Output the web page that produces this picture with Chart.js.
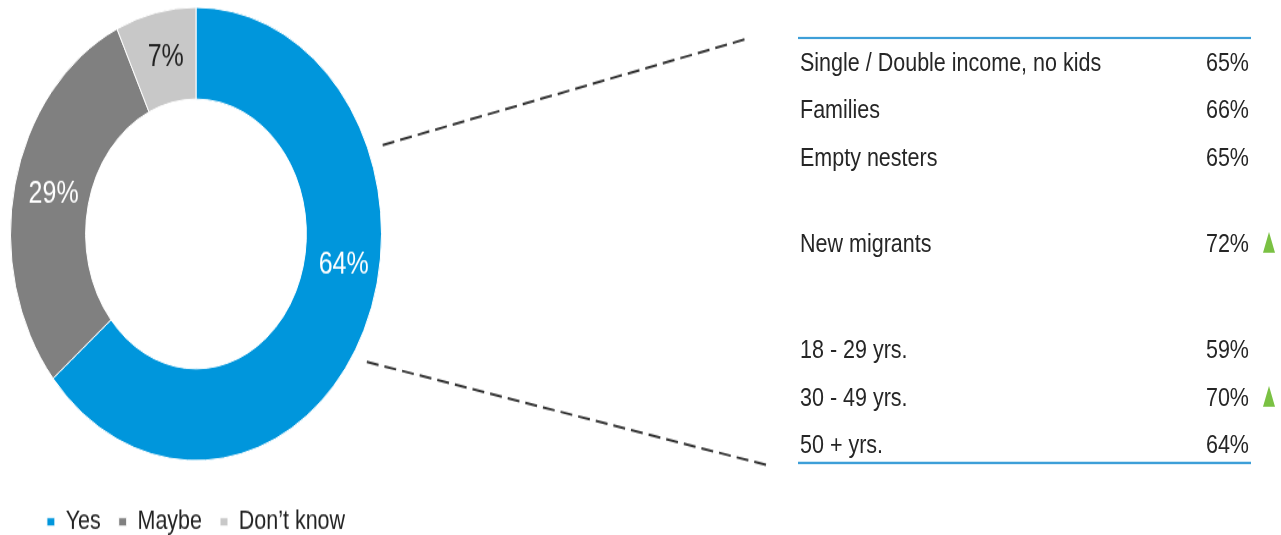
<!DOCTYPE html>
<html>
<head>
<meta charset="utf-8">
<script src="https://cdn.jsdelivr.net/npm/chart.js@4"></script>
<style>
    html, body { margin: 0; padding: 0; background: #fff; overflow: hidden; }
    #stage {
        position: absolute; left: 0; top: 0; width: 1281px; height: 448px;
        transform: scaleY(1.2215); transform-origin: 0 0;
        font-family: 'Liberation Sans', Arial, sans-serif; color: #262626;
    }
    #chart { position: absolute; left: 0; top: 0; }
    .rule { position: absolute; left: 798px; width: 453px; height: 2.5px; background: #3d9fd8; }
    .row { position: absolute; left: 800px; width: 449px; height: 39px; line-height: 39px; font-size: 21.5px; }
    .row .val { position: absolute; right: 0; top: 0; }
    .up {
        position: absolute; left: 463px; top: 9.5px; width: 0; height: 0;
        border-left: 6.5px solid transparent; border-right: 6.5px solid transparent;
        border-bottom: 17.5px solid #7ac143;
    }
</style>
</head>
<body>
<div id="stage">
    <canvas id="chart" width="1281" height="448"></canvas>
    <div class="rule" style="top:29.7px"></div>
    <div class="rule" style="top:377.6px"></div>
    <div id="table"></div>
</div>
<script>
// doughnut
const answers = ['Yes', 'Maybe', 'Don\u2019t know'];
const answerShares = [64, 29, 7];
const answerColors = ['#0096dc', '#808080', '#c8c8c8'];

// breakdown of "Yes"
const householdLabels = ['Single / Double income, no kids', 'Families', 'Empty nesters'];
const householdValues = [65, 66, 65];
const householdUp = [false, false, false];
const migrantLabels = ['New migrants'];
const migrantValues = [72];
const migrantUp = [true];
const ageLabels = ['18 - 29 yrs.', '30 - 49 yrs.', '50 + yrs.'];
const ageValues = [59, 70, 64];
const ageUp = [false, true, false];

const groups = [
    { labels: householdLabels, values: householdValues, up: householdUp, gap: 0 },
    { labels: migrantLabels, values: migrantValues, up: migrantUp, gap: 31.7 },
    { labels: ageLabels, values: ageValues, up: ageUp, gap: 48.2 },
];

// build the table on the right
var table = document.getElementById('table');
var y = 51.4;
var step = 38.9;
groups.forEach(function (g, gi) {
    if (gi > 0) y += g.gap;
    g.labels.forEach(function (label, i) {
        var row = document.createElement('div');
        row.className = 'row';
        row.style.top = (y - 19.5) + 'px';
        row.innerHTML = `<span>${label}</span><span class="val">${g.values[i]}%</span>` +
            (g.up[i] ? '<span class="up"></span>' : '');
        table.appendChild(row);
        y += step;
    });
});

// labels on the ring + dashed connectors
const labelAt = [0.434, 0.5, 0.5];
const labelColors = ['#ffffff', '#ffffff', '#222222'];

const ringExtras = {
    id: 'ringExtras',
    afterDatasetsDraw(chart) {
        const ctx = chart.ctx;
        const arcs = chart.getDatasetMeta(0).data;
        ctx.save();
        ctx.font = '25px "Liberation Sans", Arial, sans-serif';
        ctx.textAlign = 'center';
        ctx.textBaseline = 'middle';
        arcs.forEach(function (arc, i) {
            const p = arc.getProps(['x', 'y', 'startAngle', 'endAngle', 'innerRadius', 'outerRadius']);
            const a = p.startAngle + (p.endAngle - p.startAngle) * labelAt[i];
            const r = (p.innerRadius + p.outerRadius) / 2;
            ctx.fillStyle = labelColors[i];
            ctx.fillText(`${answerShares[i]}%`, p.x + Math.cos(a) * r + 2, p.y + Math.sin(a) * r);
        });

        // connectors from the "Yes" slice to the breakdown
        const c = arcs[0].getProps(['x', 'y', 'outerRadius']);
        const reach = c.outerRadius * 1.08;
        const links = [
            { angle: -21.3, to: [750, 31] },
            { angle: 31.5, to: [768, 381] },
        ];
        ctx.strokeStyle = '#333';
        ctx.lineWidth = 2;
        ctx.setLineDash([12, 6]);
        links.forEach(function (l) {
            const a = l.angle * Math.PI / 180;
            ctx.beginPath();
            ctx.moveTo(c.x + Math.cos(a) * reach, c.y + Math.sin(a) * reach);
            ctx.lineTo(l.to[0], l.to[1]);
            ctx.stroke();
        });
        ctx.restore();
    }
};

new Chart(document.getElementById('chart'), {
    type: 'doughnut',
    data: {
        labels: answers,
        datasets: [{
            data: answerShares,
            backgroundColor: answerColors,
            borderColor: '#ffffff',
            borderWidth: 1
        }]
    },
    options: {
        responsive: false,
        animation: false,
        cutout: '59.5%',
        layout: { padding: { left: 10, right: 899, top: 0, bottom: 0 } },
        plugins: {
            legend: {
                position: 'bottom',
                title: {
                    display: true,
                    text: ' ',
                    font: { size: 10, lineHeight: 1 },
                    padding: { top: 5.5, bottom: 0 }
                },
                labels: {
                    boxWidth: 8,
                    boxHeight: 7,
                    padding: 18,
                    color: '#222',
                    font: { family: '"Liberation Sans", Arial, sans-serif', size: 21.5 }
                }
            },
            tooltip: { enabled: false }
        }
    },
    plugins: [ringExtras]
});
</script>
</body>
</html>
